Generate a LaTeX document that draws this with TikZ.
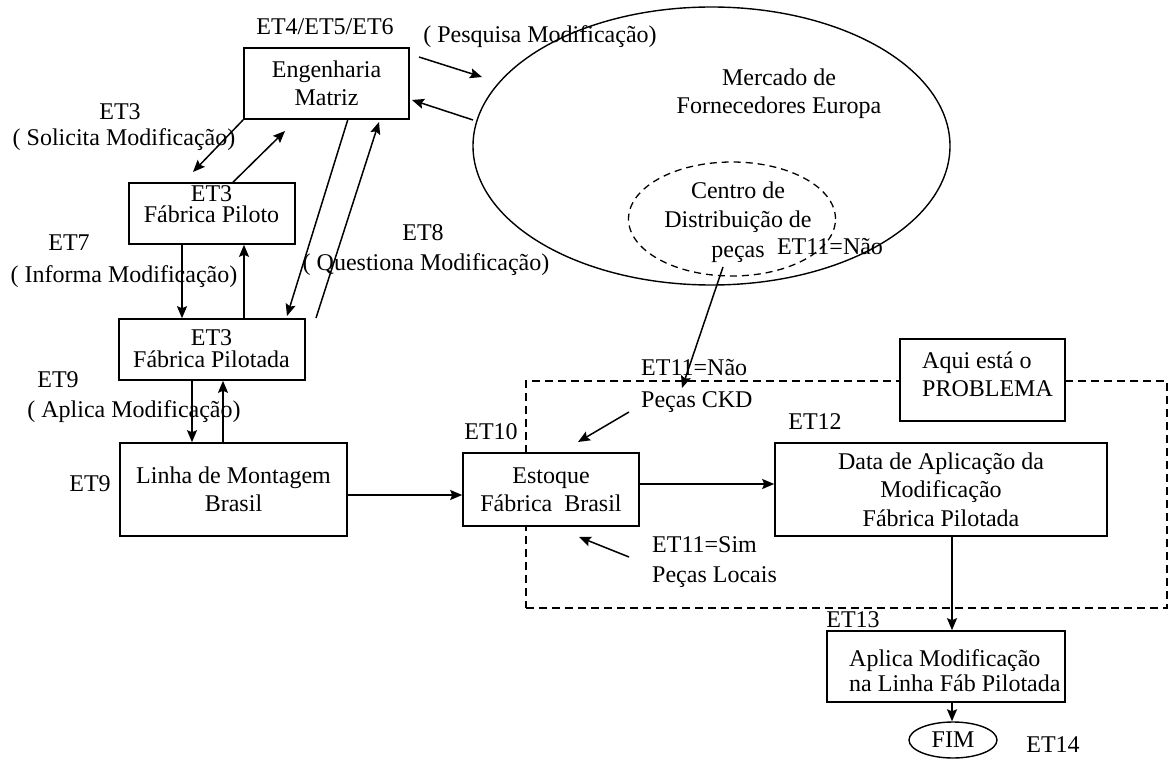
\documentclass[tikz,border=0pt]{standalone}
\usepackage{fontspec}
\setmainfont{Liberation Serif}
\usetikzlibrary{arrows.meta,shapes.geometric}
\tikzset{
  lbl/.style={inner sep=0pt, font=\fontsize{24}{28}\selectfont},
  boxwh/.style 2 args={draw, line width=1.6pt, fill=white, inner sep=0pt,
    minimum width=#1, minimum height=#2, font=\fontsize{24}{28}\selectfont, align=center},
  ellwh/.style 2 args={draw, ellipse, line width=1.4pt, inner sep=0pt,
    minimum width=#1, minimum height=#2},
  arr/.style={line width=1.5pt, -{Stealth[length=12pt,width=10pt,inset=2pt]}},
  dashrect/.style={draw, line width=1.6pt, dash pattern=on 8pt off 5pt},
  dashell/.style={ellipse, draw, line width=1.3pt, dash pattern=on 7pt off 5pt,
    inner sep=0pt, minimum width=#1, minimum height=114pt},
}
\begin{document}
\begin{tikzpicture}[x=1pt,y=-1pt]
\useasboundingbox (0,0) rectangle (1170,762);

% region of the problem (dashed)
\node[dashrect, inner sep=0pt, minimum width=641pt, minimum height=227pt] (probarea) at (846.5,494.5) {};

% market ellipse
\node[ellwh={477pt}{278pt}] (market) at (711.5,146) {};
\node[lbl, align=center] (mercado) at (779,94) {Mercado de\\Fornecedores Europa};
\node[dashell=207pt] (centro) at (732,219) {};
\node[lbl, align=center, font=\fontsize{24}{29.5}\selectfont] (centrotxt) at (738,222) {Centro de\\Distribuição de\\peças};
\node[lbl] (et11a) at (830,247) {ET11=Não};

% boxes
\node[boxwh={165pt}{71pt}] (eng) at (326.5,83.5) {Engenharia\\Matriz};
\node[boxwh={166pt}{61pt}] (piloto) at (212,213.5) {};
\node[boxwh={186pt}{61pt}] (pilotada) at (212,349.5) {};
\node[boxwh={227pt}{93pt}] (linha) at (233.5,489.5) {Linha de Montagem\\Brasil};
\node[boxwh={176pt}{73pt}] (estoque) at (551,489.5) {Estoque\\Fábrica~~Brasil};
\node[boxwh={332pt}{93pt}, font=\fontsize{24}{28.5}\selectfont] (data) at (941,489.5) {Data de Aplicação da\\Modificação\\Fábrica Pilotada};
\node[boxwh={165pt}{82pt}] (aqui) at (982.5,380) {};
\node[boxwh={238pt}{71pt}] (aplica) at (946,666.5) {};
\node[ellwh={88pt}{36pt}, fill=white] (fim) at (953,740) {};

% texts inside boxes
\node[lbl, align=center, font=\fontsize{24}{21.5}\selectfont] (pilototxt) at (211.5,204) {ET3\\Fábrica Piloto};
\node[lbl, align=center, font=\fontsize{24}{21.5}\selectfont] (pilotadatxt) at (211.5,348.5) {ET3\\Fábrica Pilotada};
\node[lbl, anchor=west, align=left] (aquitxt) at (922,374) {Aqui está o\\PROBLEMA};
\node[lbl, anchor=west, align=left, font=\fontsize{24}{25}\selectfont] (aplicatxt) at (849,670.5) {Aplica Modificação\\na Linha Fáb Pilotada};
\node[lbl] (fimtxt) at (953,740) {FIM};

% labels
\node[lbl] (et456) at (325,27) {ET4/ET5/ET6};
\node[lbl] (pesq) at (540,37) {( Pesquisa Modificação)};
\node[lbl] (et3a) at (120,112) {ET3};
\node[lbl] (solic) at (124,140) {( Solicita Modificação)};
\node[lbl] (et7) at (69,243) {ET7};
\node[lbl] (inform) at (124,277) {( Informa Modificação)};
\node[lbl] (et8) at (423,233) {ET8};
\node[lbl] (quest) at (426,265) {( Questiona Modificação)};
\node[lbl] (et9a) at (58,380) {ET9};
\node[lbl] (aplicalbl) at (134,412) {( Aplica Modificação)};
\node[lbl] (et9b) at (90,484) {ET9};
\node[lbl] (et10) at (491,432) {ET10};
\node[lbl] (et12) at (815,422) {ET12};
\node[lbl] (et13) at (853,620) {ET13};
\node[lbl] (et14) at (1053,745) {ET14};
\node[lbl, anchor=west, align=left, font=\fontsize{24}{32}\selectfont] (ckd) at (641,386) {ET11=Não\\Peças CKD};
\node[lbl, anchor=west, align=left, font=\fontsize{24}{30}\selectfont] (sim) at (652,562) {ET11=Sim\\Peças Locais};

% free ends of connectors
\coordinate (pesqS) at (419,57);
\coordinate (pesqE) at (482,77);
\coordinate (retS) at (473,120);
\coordinate (retE) at (412,100);
\coordinate (solE) at (193,172);
\coordinate (pilUpE) at (285,131);
\coordinate (engDownS) at (348,119);
\coordinate (engDownE) at (287,316);
\coordinate (questS) at (316,318);
\coordinate (questE) at (379,122);
\coordinate (cdS) at (723,267);
\coordinate (cdE) at (682,388);
\coordinate (ckdS) at (629,412);
\coordinate (ckdE) at (578,442);
\coordinate (simS) at (629,557);
\coordinate (simE) at (579,537);

% connectors
\draw[arr] (pesqS) -- (pesqE);
\draw[arr] (retS) -- (retE);
\draw[arr] (eng.south west) -- (solE);
\draw[arr] (233,0 |- piloto.north) -- (pilUpE);
\draw[arr] (engDownS) -- (engDownE);
\draw[arr] (questS) -- (questE);
\draw[arr] (182,0 |- piloto.south) -- (182,0 |- pilotada.north);
\draw[arr] (244,0 |- pilotada.north) -- (244,0 |- piloto.south);
\draw[arr] (192,0 |- pilotada.south) -- (192,0 |- linha.north);
\draw[arr] (223,0 |- linha.north) -- (223,0 |- pilotada.south);
\draw[arr] (linha.east |- 0,495) -- (estoque.west |- 0,495);
\draw[arr] (estoque.east |- 0,484) -- (data.west |- 0,484);
\draw[arr] (cdS) -- (cdE);
\draw[arr] (ckdS) -- (ckdE);
\draw[arr] (simS) -- (simE);
\draw[arr] (952,0 |- data.south) -- (952,0 |- aplica.north);
\draw[arr] (952,0 |- aplica.south) -- (952,0 |- fim.north);
\end{tikzpicture}
\end{document}
